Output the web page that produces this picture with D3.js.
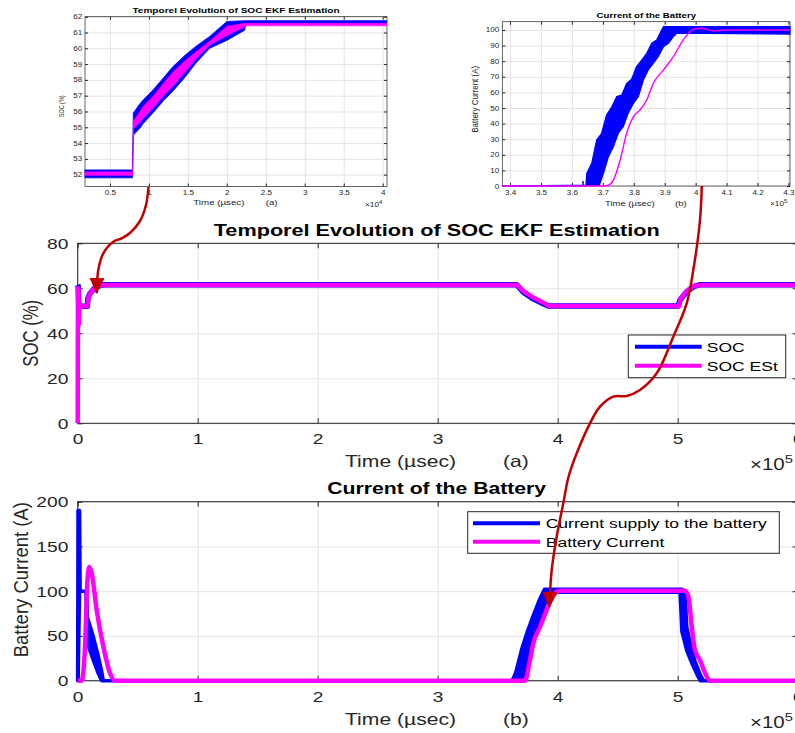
<!DOCTYPE html>
<html>
<head>
<meta charset="utf-8">
<script src="https://cdn.jsdelivr.net/npm/d3@7"></script>
<style>
  body { margin: 0; background: #fff; }
  svg { display: block; font-family: "Liberation Sans", Arial, Helvetica, sans-serif; }
</style>
</head>
<body>
<svg id="fig" width="795" height="733"></svg>
<script>
// ---- (a) SOC, time in 1e5 usec
const socT    = [0, 0.004, 0.01, 0.02, 0.08, 0.085, 0.1, 0.125, 0.15, 0.175, 0.2, 0.22, 3.658, 3.713, 3.797, 3.88, 3.922, 5.005, 5.019, 5.075, 5.13, 5.186, 6]
const socV    = [61.5, 61, 52, 52, 52, 55.5, 57.5, 59.2, 60.4, 61, 61.4, 61.6, 61.6, 58.3, 55.3, 53.1, 52.1, 52.1, 54.8, 58.5, 60.7, 61.6, 61.6]
const socEstT = [0, 0.002, 0.006, 0.01, 0.014, 0.018, 0.08, 0.088, 0.1, 0.125, 0.15, 0.175, 0.2, 0.22, 3.66, 3.713, 3.797, 3.88, 3.93, 5.01, 5.02, 5.075, 5.13, 5.19, 6]
const socEstV = [0, 60, 60, 44, 50, 52, 52, 55.5, 57.5, 59.2, 60.3, 61, 61.3, 61.5, 61.5, 58.8, 55.9, 53.6, 52.1, 52.1, 55, 58.8, 60.9, 61.5, 61.5]

// ---- (b) current, time in 1e5 usec (supply drawn as a noisy band hi/lo)
const curT  = [0, 0.003, 0.015, 0.02, 0.069, 0.075, 0.08, 0.13, 0.172, 0.2, 0.213, 3.62, 3.65, 3.70, 3.75, 3.80, 3.85, 3.89, 3.95, 5.02, 5.035, 5.06, 5.075, 5.117, 5.144, 5.172, 5.19, 5.214, 6]
const curHi = [0, 190, 190, 100, 100, 100, 71, 49, 27, 10, 0, 0, 9, 35, 56, 74, 91, 102, 102, 102, 102, 100, 60, 34, 22, 12, 6, 0, 0]
const curLo = [0, 0, 100, 100, 100, 60, 42, 23, 8, 0, 0, 0, 0, 0, 24, 50, 70, 85, 99, 99, 55, 42, 34, 20, 12, 4, 0, 0, 0]
const batT  = [0, 0.033, 0.061, 0.08, 0.097, 0.117, 0.158, 0.213, 0.269, 0.311, 3.713, 3.728, 3.769, 3.797, 3.853, 3.908, 3.964, 4.019, 5.061, 5.089, 5.117, 5.144, 5.186, 5.228, 5.269, 6]
const batV  = [0, 0, 38, 109, 127, 120, 79, 38.5, 8.6, 0, 0, 0.2, 23, 41.8, 60.3, 78.9, 95.7, 100.6, 100.6, 94, 60.3, 34.3, 23, 8.6, 0, 0]

// ---- inset (a) zoom on SOC, time in 1e4 usec
const zsT     = [0.18, 0.79, 0.80, 0.886, 0.93, 1.06, 1.19, 1.31, 1.46, 1.61, 1.78, 2.0, 2.23, 2.24, 4.05]
const zsHi    = [52.3, 52.3, 55.9, 56.5, 56.75, 57.4, 58.15, 58.85, 59.55, 60.15, 60.75, 61.7, 61.75, 61.75, 61.75]
const zsLo    = [51.8, 51.8, 54.5, 54.95, 55.25, 55.95, 56.7, 57.3, 58.15, 59.1, 60.0, 60.5, 61.15, 61.55, 61.55]
const zsEstHi = [52.18, 52.18, 55.4, 56.0, 56.35, 57.0, 57.8, 58.5, 59.2, 59.8, 60.45, 61.4, 61.58, 61.58, 61.58]
const zsEstLo = [51.95, 51.95, 54.9, 55.3, 55.55, 56.25, 57.0, 57.6, 58.45, 59.35, 60.2, 60.8, 61.35, 61.42, 61.42]

// ---- inset (b) zoom on current, time in 1e5 usec
const zcUpT = [3.375, 3.645, 3.648, 3.664, 3.680, 3.696, 3.712, 3.729, 3.745, 3.761, 3.777, 3.793, 3.809, 3.826, 3.842, 3.858, 3.874, 3.890, 3.896, 4.305]
const zcUpV = [0, 0, 8.1, 14.5, 29.5, 33.8, 45.5, 50.8, 57.3, 58.3, 65.8, 68.4, 76.5, 80.8, 85.0, 91.5, 93.6, 100, 102.1, 102.1]
const zcLoT = [3.375, 3.689, 3.702, 3.718, 3.734, 3.750, 3.766, 3.782, 3.799, 3.815, 3.831, 3.847, 3.863, 3.879, 3.896, 3.912, 3.928, 3.939, 4.305]
const zcLoV = [0, 0.6, 8.1, 18.8, 25.2, 33.8, 38.0, 46.6, 53, 57.3, 67.9, 74.4, 78.6, 82.9, 89.3, 91.5, 95.7, 97.9, 97.4]
const zcSpikeT = [3.636, 3.636]
const zcSpikeV = [0, 3.2]
const zbT = [3.375, 3.702, 3.718, 3.734, 3.756, 3.777, 3.799, 3.820, 3.842, 3.863, 3.896, 3.928, 3.960, 3.993, 4.020, 4.057, 4.100, 4.305]
const zbV = [0, 0, 0.5, 3.8, 16.7, 33.8, 44.4, 48.7, 55.1, 65.8, 74.4, 82.9, 93.6, 100.4, 101.1, 99.4, 100, 100]

// ---- ticks
const mainXT = [0, 1, 2, 3, 4, 5, 6]
const socYT = [0, 20, 40, 60, 80]
const curYT = [0, 50, 100, 150, 200]
const zsXT = [0.5, 1, 1.5, 2, 2.5, 3, 3.5, 4]
const zsYT = [52, 53, 54, 55, 56, 57, 58, 59, 60, 61, 62]
const zcXT = [3.4, 3.5, 3.6, 3.7, 3.8, 3.9, 4, 4.1, 4.2, 4.3]
const zcYT = [0, 10, 20, 30, 40, 50, 60, 70, 80, 90, 100]

const ink = "#262626", gridC = "#e4e4e4"
const blue = "#0000ff", pink = "#ff00ff", red = "#c00000"
const SX = 1.28

const svg = d3.select("#fig")

svg.append("defs").append("marker")
  .attr("id", "head")
  .attr("markerUnits", "userSpaceOnUse")
  .attr("viewBox", "0 0 16 15")
  .attr("refX", 15).attr("refY", 7.5)
  .attr("markerWidth", 16).attr("markerHeight", 15)
  .attr("orient", "auto")
  .append("path").attr("d", "M0,0 L16,7.5 L0,15 Z").attr("fill", red)

function txt(g, x, y, s, size, o = {}) {
  const sx = o.sx || SX
  const tr = o.rot ? `translate(${x},${y}) rotate(-90) scale(1,${sx})` : `translate(${x},${y}) scale(${sx},1)`
  return g.append("text")
    .attr("transform", tr)
    .attr("text-anchor", o.anchor || "middle")
    .attr("font-size", size)
    .attr("font-weight", o.bold ? "bold" : null)
    .attr("fill", o.fill || ink)
    .text(s)
}

function expo(g, x, y, p, size) {
  const t = g.append("text")
    .attr("transform", `translate(${x},${y}) scale(${SX},1)`)
    .attr("font-size", size).attr("fill", ink)
  t.append("tspan").text("×10")
  t.append("tspan").attr("dy", -size * 0.45).attr("font-size", size * 0.72).text(p)
}

function frame(g, x, y, xt, yt, o) {
  const [x0, x1] = x.range(), [y0, y1] = y.range()
  const fs = o.fs, tl = o.tl
  g.append("g").attr("transform", `translate(0,${y0})`)
    .call(d3.axisBottom(x).tickValues(xt).tickSize(-(y0 - y1)).tickFormat(""))
    .call(a => { a.select(".domain").remove(); a.selectAll("line").attr("stroke", gridC) })
  g.append("g").attr("transform", `translate(${x0},0)`)
    .call(d3.axisLeft(y).tickValues(yt).tickSize(-(x1 - x0)).tickFormat(""))
    .call(a => { a.select(".domain").remove(); a.selectAll("line").attr("stroke", gridC) })

  const style = a => {
    a.select(".domain").remove()
    a.selectAll("line").attr("stroke", ink)
    a.selectAll("text").attr("fill", ink).attr("font-size", fs).attr("font-family", null)
  }
  g.append("g").attr("transform", `translate(0,${y0})`)
    .call(d3.axisBottom(x).tickValues(xt).tickSize(-tl).tickPadding(o.padB).tickFormat(d => String(d)))
    .call(style)
    .call(a => a.selectAll("text").attr("transform", `scale(${SX},1)`))
  g.append("g").attr("transform", `translate(0,${y1})`)
    .call(d3.axisTop(x).tickValues(xt).tickSize(-tl).tickFormat(""))
    .call(style)
  g.append("g").attr("transform", `translate(${x0},0)`)
    .call(d3.axisLeft(y).tickValues(yt).tickSize(-tl).tickPadding(o.padL).tickFormat(d => String(d)))
    .call(style)
    .call(a => a.selectAll("text").attr("transform", `scale(${SX},1)`))
  g.append("g").attr("transform", `translate(${x1},0)`)
    .call(d3.axisRight(y).tickValues(yt).tickSize(-tl).tickFormat(""))
    .call(style)
  g.append("rect")
    .attr("x", x0).attr("y", y1).attr("width", x1 - x0).attr("height", y0 - y1)
    .attr("fill", "none").attr("stroke", ink).attr("stroke-width", o.bw || 1)
}

const pts = (T, V) => T.map((t, i) => [t, V[i]])

// ================= inset (a)
{
  const g = svg.append("g")
  const x = d3.scaleLinear([0.18, 4.055], [85, 387])
  const y = d3.scaleLinear([51.25, 62], [186.5, 16.7])
  frame(g, x, y, zsXT, zsYT, { fs: 6.3, tl: 3, padB: 4.5, padL: 2.2, bw: 0.7 })
  const area = d3.area().x(d => x(d[0])).y0(d => y(d[1])).y1(d => y(d[2]))
  g.append("path").datum(zsT.map((t, i) => [t, zsLo[i], zsHi[i]]))
    .attr("d", area).attr("fill", blue).attr("stroke", blue).attr("stroke-width", 0.8)
  g.append("path").datum(zsT.map((t, i) => [t, zsEstLo[i], zsEstHi[i]]))
    .attr("d", area).attr("fill", pink).attr("stroke", pink).attr("stroke-width", 0.5)
  txt(g, 236, 12.7, "Temporel Evolution of SOC EKF Estimation", 7.4, { bold: true, fill: "#000", sx: 1.36 })
  txt(g, 193.3, 205, "Time (µsec)", 7.6, { anchor: "start" })
  txt(g, 265.7, 205, "(a)", 7.6, { anchor: "start" })
  txt(g, 64.3, 106.3, "SOC (%)", 5.4, { rot: true, sx: 1.2 })
  expo(g, 365, 206.7, "4", 6.5)
}

// ================= inset (b)
{
  const g = svg.append("g")
  const x = d3.scaleLinear([3.375, 4.305], [502.3, 790])
  const y = d3.scaleLinear([0, 105.3], [186, 21.7])
  frame(g, x, y, zcXT, zcYT, { fs: 6.3, tl: 3, padB: 4.5, padL: 2.5, bw: 0.7 })
  const line = d3.line().x(d => x(d[0])).y(d => y(d[1]))
  const band = pts(zcUpT, zcUpV).concat(pts(zcLoT, zcLoV).reverse())
  g.append("path").datum(band).attr("d", line.curve(d3.curveLinearClosed))
    .attr("fill", blue).attr("stroke", blue).attr("stroke-width", 1.2)
  g.append("path").datum(pts(zcSpikeT, zcSpikeV)).attr("d", d3.line().x(d => x(d[0])).y(d => y(d[1])))
    .attr("stroke", blue).attr("stroke-width", 1.5)
  g.append("path").datum(pts(zbT, zbV))
    .attr("d", d3.line().x(d => x(d[0])).y(d => y(d[1])).curve(d3.curveMonotoneX))
    .attr("fill", "none").attr("stroke", pink).attr("stroke-width", 1.4)
  txt(g, 646.3, 17.7, "Current of the Battery", 7.4, { bold: true, fill: "#000", sx: 1.3 })
  txt(g, 605, 205.7, "Time (µsec)", 7.4, { anchor: "start" })
  txt(g, 675, 205.7, "(b)", 7.4, { anchor: "start" })
  txt(g, 478.3, 99.3, "Battery Current (A)", 8, { rot: true, sx: 1.1 })
  expo(g, 770, 206, "5", 6.5)
}

// ================= main (a)
const xm = d3.scaleLinear([0, 6], [77.7, 797.7])
{
  const g = svg.append("g")
  const y = d3.scaleLinear([0, 80], [423.3, 243.3])
  frame(g, xm, y, mainXT, socYT, { fs: 15, tl: 5, padB: 10, padL: 7.3 })
  const line = d3.line().x(d => xm(d[0])).y(d => y(d[1]))
  g.append("path").datum(pts(socT, socV)).attr("d", line)
    .attr("fill", "none").attr("stroke", blue).attr("stroke-width", 5.5).attr("stroke-linejoin", "round")
  g.append("path").datum(pts(socEstT, socEstV)).attr("d", line)
    .attr("fill", "none").attr("stroke", pink).attr("stroke-width", 4.5).attr("stroke-linejoin", "round")
  txt(g, 436.7, 235.7, "Temporel Evolution of SOC EKF Estimation", 16.3, { bold: true, fill: "#000", sx: 1.33 })
  txt(g, 345, 467.3, "Time (µsec)", 16.5, { anchor: "start" })
  txt(g, 503, 467.3, "(a)", 16.5, { anchor: "start" })
  txt(g, 37.7, 333.3, "SOC (%)", 16.7, { rot: true })
  expo(g, 750, 470, "5", 16)

  const lg = g.append("g")
  lg.append("rect").attr("x", 628.3).attr("y", 335).attr("width", 157.4).attr("height", 42.7)
    .attr("fill", "#fff").attr("stroke", ink).attr("stroke-width", 1)
  const items = [["SOC", blue, 346.7], ["SOC ESt", pink, 365.7]]
  items.forEach(([name, c, yy]) => {
    lg.append("line").attr("x1", 635).attr("x2", 701.7).attr("y1", yy).attr("y2", yy)
      .attr("stroke", c).attr("stroke-width", 4)
    txt(lg, 706.7, yy + 5, name, 13.7, { anchor: "start", fill: "#000" })
  })
}

// ================= main (b)
{
  const g = svg.append("g")
  const y = d3.scaleLinear([0, 200], [680.7, 501.7])
  frame(g, xm, y, mainXT, curYT, { fs: 15, tl: 5, padB: 11, padL: 7.3 })
  const area = d3.area().x(d => xm(d[0])).y0(d => y(d[1])).y1(d => y(d[2]))
  g.append("path").datum(curT.map((t, i) => [t, curLo[i], curHi[i]])).attr("d", area)
    .attr("fill", blue).attr("stroke", blue).attr("stroke-width", 3.6).attr("stroke-linejoin", "round")
  g.append("path").datum(pts(batT, batV))
    .attr("d", d3.line().x(d => xm(d[0])).y(d => y(d[1])).curve(d3.curveMonotoneX))
    .attr("fill", "none").attr("stroke", pink).attr("stroke-width", 4.5).attr("stroke-linejoin", "round")
  txt(g, 436.7, 494, "Current of the Battery", 16.3, { bold: true, fill: "#000", sx: 1.3 })
  txt(g, 345, 725, "Time (µsec)", 16.5, { anchor: "start" })
  txt(g, 503, 725, "(b)", 16.5, { anchor: "start" })
  txt(g, 28.3, 579.7, "Battery Current (A)", 18.5, { rot: true, sx: 1.1 })
  expo(g, 750, 728.3, "5", 16)

  const lg = g.append("g")
  lg.append("rect").attr("x", 467.7).attr("y", 511.7).attr("width", 311.6).attr("height", 41.6)
    .attr("fill", "#fff").attr("stroke", ink).attr("stroke-width", 1)
  const items = [["Current supply to the battery", blue, 523.3], ["Battery Current", pink, 541.7]]
  items.forEach(([name, c, yy]) => {
    lg.append("line").attr("x1", 473).attr("x2", 540).attr("y1", yy).attr("y2", yy)
      .attr("stroke", c).attr("stroke-width", 4)
    txt(lg, 545.7, yy + 5, name, 13.7, { anchor: "start", fill: "#000" })
  })
}

// ================= arrows from insets to main plots
const curve = d3.line().curve(d3.curveCatmullRom.alpha(0.5))
svg.append("path")
  .attr("d", curve([[148.5, 187], [146, 205], [140, 221], [130, 233], [121.7, 238.3], [113.3, 241.7], [103.3, 253.3], [98.3, 270], [96.7, 293]]))
  .attr("fill", "none").attr("stroke", red).attr("stroke-width", 2.5).attr("marker-end", "url(#head)")
svg.append("path")
  .attr("d", curve([[701.8, 186], [700, 220], [693.3, 270], [686.7, 303.3], [673.3, 336.7], [656.7, 373.3], [640, 390], [626.7, 396], [613.3, 396.7], [600, 406.7], [590, 423.3], [576.7, 453.3], [568.3, 477.7], [563.3, 503.3], [556.7, 536.7], [551.7, 570], [549.3, 607]]))
  .attr("fill", "none").attr("stroke", red).attr("stroke-width", 2.5).attr("marker-end", "url(#head)")
</script>
</body>
</html>
